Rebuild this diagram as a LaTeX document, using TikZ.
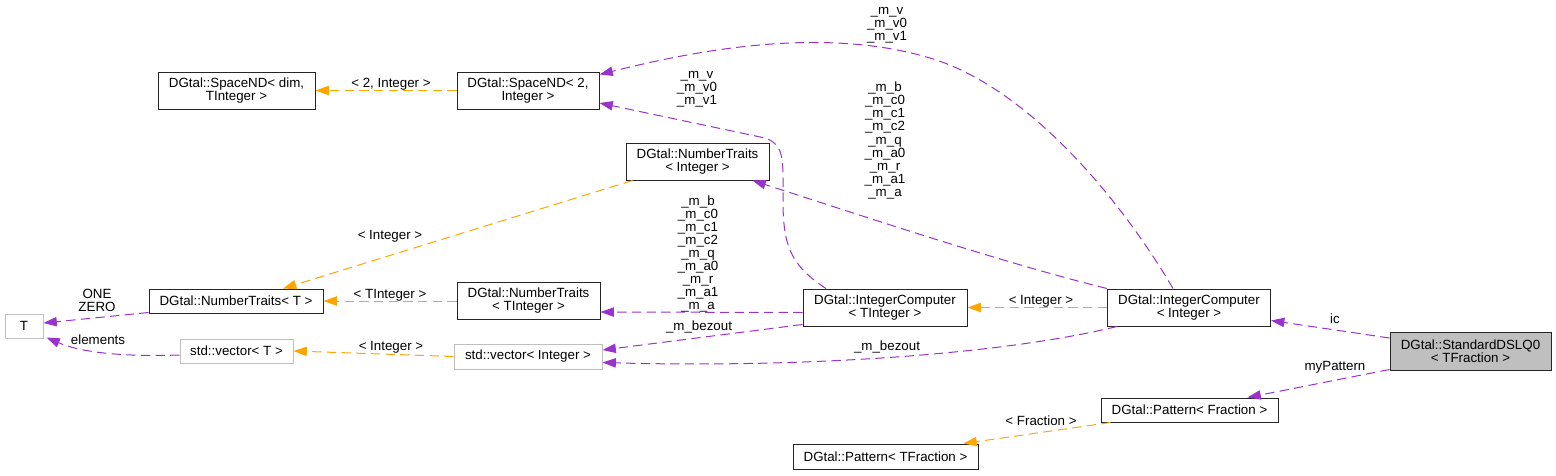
\documentclass[tikz,border=0pt]{standalone}
\usepackage{fontspec}
\setmainfont{Liberation Sans}
\usepackage{tikz}
\usetikzlibrary{
  arrows.meta,positioning,calc
}
\definecolor{orchid}{HTML}{9A32CD}
\definecolor{tmplorange}{HTML}{FFA500}
\definecolor{grey75}{HTML}{BFBFBF}
\newdimen\dpx \dpx=0.75pt
\newcommand{\dfont}{\fontsize{10}{9.8}\selectfont}
\newcommand{\mvecs}{\_m\_v\\\_m\_v0\\\_m\_v1}
\newcommand{\mcoefs}{\_m\_b\\\_m\_c0\\\_m\_c1\\\_m\_c2\\\_m\_q\\\_m\_a0\\\_m\_r\\\_m\_a1\\\_m\_a}
\tikzset{
  cls/.style={draw=black!85, fill=white, line width=0.75pt, align=center,
    inner sep=0pt, minimum height=24\dpx, font=\dfont},
  cls2/.style={cls, minimum height=37\dpx},
  undoc/.style={cls, draw=grey75},
  focus/.style={cls2, fill=grey75},
  % member usage / template instance
  usage/.style={-{Triangle[length=10pt, width=7pt]}, draw=orchid,
    line width=0.75pt, dash pattern=on 7pt off 4pt},
  inst/.style={usage, draw=tmplorange},
  elabel/.style={font=\dfont, align=center, inner sep=0pt},
}

\begin{document}
\begin{tikzpicture}[x=0.75pt,y=-0.75pt]
  \useasboundingbox (0,0) rectangle (1556,475);
  % classes
  \node[undoc, minimum width=38\dpx] (t) at (24,326) {T};
  \node[cls, minimum width=174\dpx] (ntt) at (236,301) {DGtal::NumberTraits< T >};
  \node[undoc, minimum width=113\dpx] (vect) at (236.5,351) {std::vector< T >};
  \node[cls2, minimum width=157\dpx] (spacedim) at (236.5,90.5) {DGtal::SpaceND< dim,\\TInteger >};
  \node[cls2, minimum width=142\dpx] (space2) at (528,90.5) {DGtal::SpaceND< 2,\\Integer >};
  \node[cls2, minimum width=143\dpx] (ntint) at (697.5,161.5) {DGtal::NumberTraits\\< Integer >};
  \node[cls2, minimum width=143\dpx] (nttint) at (528.5,301) {DGtal::NumberTraits\\< TInteger >};
  \node[undoc, minimum width=148\dpx, minimum height=25\dpx] (vecint) at (528,356.5) {std::vector< Integer >};
  \node[cls2, minimum width=164\dpx] (ict) at (885,307.5) {DGtal::IntegerComputer\\< TInteger >};
  \node[cls2, minimum width=163\dpx] (ici) at (1189,307.5) {DGtal::IntegerComputer\\< Integer >};
  \node[focus, minimum width=161\dpx, minimum height=38\dpx] (sdsl) at (1470.5,351) {DGtal::StandardDSLQ0\\< TFraction >};
  \node[cls, minimum width=177\dpx] (patf) at (1189.5,410) {DGtal::Pattern< Fraction >};
  \node[cls, minimum width=185\dpx, minimum height=25\dpx] (pattf) at (885.5,456.5) {DGtal::Pattern< TFraction >};

  % edges
  \draw[usage] ($(sdsl.west)+(0,-13)$) -- ($(ici.east)+(0,13)$);
  \draw[usage] ($(sdsl.south west)+(0,-1)$) -- ($(patf.north)+(58,0)$);
  \draw[inst] ($(patf.south west)+(10,0)$) -- ($(pattf.north)+(78,0)$);
  \draw[inst] (ici.west) -- (ict.east);
  \draw[usage] ($(ici.north)+(-16,0)$) .. controls (1123,203) and (1030,88) .. (930,58)
    .. controls (820,25) and (690,52) .. ($(space2.east)+(0,-16)$);
  \draw[usage] (ici.north west) .. controls (1000,262) and (860,215) .. ($(ntint.south)+(55,0)$);
  \draw[usage] ($(ici.south west)+(10,0)$) .. controls (1000,355) and (800,368) .. ($(vecint.east)+(0,6)$);
  \draw[usage] ($(ict.north)+(-59,0)$) .. controls (790,265) and (783,245) .. (783,200)
    .. controls (783,160) and (785,145) .. (765,138) -- ($(space2.east)+(0,12.5)$);
  \draw[usage] ($(ict.west)+(0,5)$) -- ($(nttint.east)+(0,11)$);
  \draw[usage] ($(ict.south west)+(0,-2)$) -- ($(vecint.east)+(0,-6.5)$);
  \draw[inst] (space2.west) -- (spacedim.east);
  \draw[inst] ($(ntint.south west)+(7,0)$) -- ($(ntt.north)+(47,0)$);
  \draw[inst] (nttint.west) -- (ntt.east);
  \draw[inst] (vecint.west) -- (vect.east);
  \draw[usage] ($(ntt.south west)+(0,-1)$) -- ($(t.east)+(0,-3)$);
  \draw[usage] ($(vect.west)+(0,4)$) .. controls (120,357) and (80,352) .. ($(t.south east)+(3,-1)$);

  % edge labels
  \node[elabel] (l-ic) at (1335,319) {ic};
  \node[elabel] (l-pat) at (1335,367) {myPattern};
  \node[elabel] (l-frac) at (1041,421) {< Fraction >};
  \node[elabel] (l-ici) at (1041,301) {< Integer >};
  \node[elabel] (l-vi) at (887,25) {\mvecs};
  \node[elabel] (l-ci) at (885,140.5) {\mcoefs};
  \node[elabel] (l-bi) at (887,347) {\_m\_bezout};
  \node[elabel] (l-vt) at (697,89) {\mvecs};
  \node[elabel] (l-ct) at (698,254) {\mcoefs};
  \node[elabel] (l-bt) at (699,327) {\_m\_bezout};
  \node[elabel] (l-sp) at (391,84) {< 2, Integer >};
  \node[elabel] (l-nti) at (390,236) {< Integer >};
  \node[elabel] (l-ntti) at (390,295) {< TInteger >};
  \node[elabel] (l-vec) at (391,347) {< Integer >};
  \node[elabel] (l-t) at (97,300.5) {ONE\\ZERO};
  \node[elabel] (l-el) at (98,340) {elements};
\end{tikzpicture}
\end{document}
